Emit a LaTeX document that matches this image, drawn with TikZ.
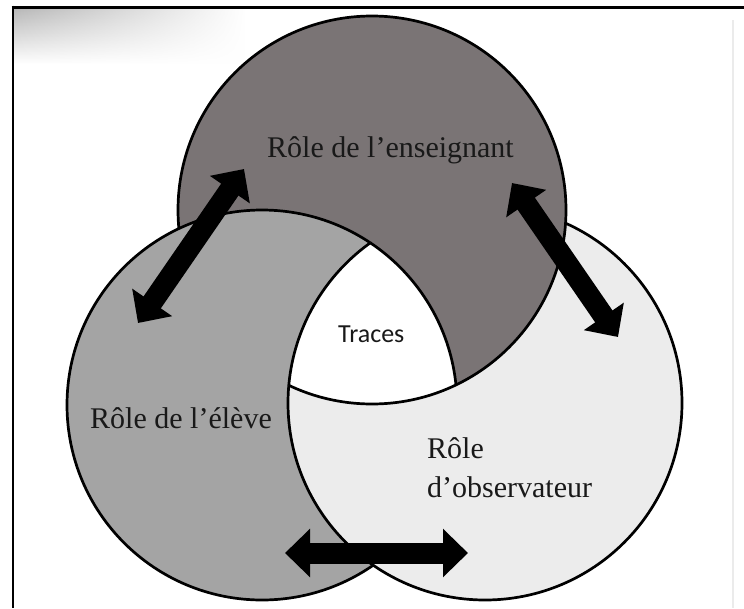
\documentclass[tikz,border=0pt]{standalone}
\usepackage{fontspec}
\setmainfont{Liberation Serif}
\newfontfamily\tracesfont{Carlito}
\usetikzlibrary{arrows.meta,fadings}
\definecolor{topc}{RGB}{122,116,117}
\definecolor{leftc}{RGB}{164,164,164}
\definecolor{rightc}{RGB}{236,236,236}
\definecolor{txt}{RGB}{25,25,25}
\tikzfading[name=fadeR, left color=transparent!0, right color=transparent!100]
\tikzset{
  ring/.style={line width=2.7pt, draw=black},
  bigarrow/.style={line width=21pt, draw=black,
    {Triangle[width=47pt,length=25pt]}-{Triangle[width=47pt,length=25pt]}},
  lbl/.style={inner sep=0pt, anchor=base west, text=txt,
    font=\fontsize{30}{36}\selectfont},
  trlbl/.style={inner sep=0pt, anchor=base west, text=txt,
    font=\tracesfont\fontsize{26}{30}\selectfont},
}
\begin{document}
\begin{tikzpicture}[x=1pt,y=-1pt]
\useasboundingbox (0,0) rectangle (744,608);
\fill[white] (0,0) rectangle (744,608);
% soft grey smear top-left
\shade[top color=black!28, bottom color=white, path fading=fadeR] (14,8) rectangle (245,64);
% frame
\draw[line width=3pt] (11.7,7) -- (744,7);
\draw[line width=2.6pt] (13,5.5) -- (13,608);
\draw[black!8, line width=1.5pt] (733,20) -- (733,608);
% circle centres
\def\rT{194}
\def\rL{195}
\def\rR{197}
\coordinate (cT) at (372,210);
\coordinate (cL) at (262,405);
\coordinate (cR) at (485,403);
% ---- fills ----
\fill[leftc] (cL) circle[radius=\rL];
\fill[rightc] (cR) circle[radius=\rR];
\fill[topc] (cT) circle[radius=\rT];
\begin{scope}
  \clip (cT) circle[radius=\rT+1.5];
  \fill[leftc] (cL) circle[radius=\rL];
\end{scope}
\begin{scope}
  \clip (cR) circle[radius=\rR];
  \fill[topc] (cT) circle[radius=\rT];
\end{scope}
\begin{scope}
  \clip (cL) circle[radius=\rL];
  \fill[rightc] (cR) circle[radius=\rR];
\end{scope}
\begin{scope}
  \clip (cL) circle[radius=\rL];
  \clip (cR) circle[radius=\rR];
  \fill[white] (cT) circle[radius=\rT];
\end{scope}
% ---- outlines: each one where it is not hidden ----
\begin{scope}[even odd rule]
  \clip (-50,-50) rectangle (800,700) (cL) circle[radius=\rL];
  \draw[ring] (cT) circle[radius=\rT];
\end{scope}
\begin{scope}[even odd rule]
  \clip (-50,-50) rectangle (800,700) (cR) circle[radius=\rR];
  \draw[ring] (cL) circle[radius=\rL];
\end{scope}
\begin{scope}[even odd rule]
  \clip (-50,-50) rectangle (800,700) (cT) circle[radius=\rT];
  \draw[ring] (cR) circle[radius=\rR];
\end{scope}
% outlines of the central region
\begin{scope}
  \clip (cL) circle[radius=\rL];
  \clip (cR) circle[radius=\rR];
  \draw[ring] (cT) circle[radius=\rT];
\end{scope}
\begin{scope}
  \clip (cL) circle[radius=\rL];
  \clip (cT) circle[radius=\rT];
  \draw[ring] (cR) circle[radius=\rR];
\end{scope}
\begin{scope}
  \clip (cR) circle[radius=\rR];
  \clip (cT) circle[radius=\rT];
  \draw[ring] (cL) circle[radius=\rL];
\end{scope}
% arrows
\coordinate (a1s) at (138,323);
\coordinate (a1e) at (244,169);
\coordinate (a2s) at (512,183);
\coordinate (a2e) at (618,337);
\coordinate (a3s) at (285,553);
\coordinate (a3e) at (468,553);
\draw[bigarrow] (a1s) -- (a1e);
\draw[bigarrow] (a2s) -- (a2e);
\draw[bigarrow] (a3s) -- (a3e);
% labels
\node[lbl] (tEns) at (267,157) {Rôle de l’enseignant};
\node[lbl] (tEl) at (90,428) {Rôle de l’élève};
\node[lbl] (tObsA) at (427,458) {Rôle};
\node[lbl] (tObsB) at (427,497) {d’observateur};
\node[trlbl] (tTr) at (338,342) {Traces};
\end{tikzpicture}
\end{document}
